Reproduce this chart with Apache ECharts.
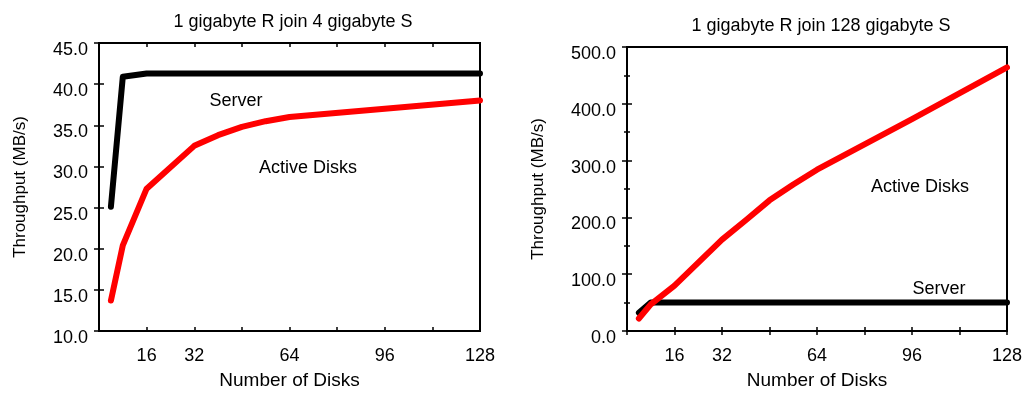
<!DOCTYPE html>
<html><head><meta charset="utf-8">
<script src="https://cdn.jsdelivr.net/npm/echarts@6/dist/echarts.min.js"></script>
<style>html,body{margin:0;padding:0;background:#fff}#c{width:1026px;height:395px}</style>
</head><body><div id="c"></div>
<script>
// Left chart: 1 GB R join 4 GB S
const leftServerDisks = [4, 8, 16, 32, 64, 128];
const leftServerMBs   = [25.1, 40.9, 41.3, 41.3, 41.3, 41.3];
const leftActiveDisks = [4, 8, 16, 32, 40, 48, 56, 64, 128];
const leftActiveMBs   = [13.7, 20.4, 27.3, 32.5, 33.8, 34.8, 35.5, 36.0, 38.0];
// Right chart: 1 GB R join 128 GB S
const rightServerDisks = [4, 8, 16, 32, 64, 128];
const rightServerMBs   = [32, 50, 50, 50, 50, 50];
const rightActiveDisks = [4, 8, 16, 32, 40, 48, 56, 64, 96, 128];
const rightActiveMBs   = [22, 47, 80, 161, 195, 230, 258, 284, 373, 464];
// Tick labels
const xTickLabels = [16, 32, 64, 96, 128];
const titles = ['1 gigabyte R join 4 gigabyte S', '1 gigabyte R join 128 gigabyte S'];

const pairs = (xs, ys) => xs.map((x, i) => [x, ys[i]]);
const FONT = 'Liberation Sans, Arial, Helvetica, sans-serif';

function xAxes(gi) {
  return [{
    type: 'value', gridIndex: gi, min: 0, max: 128, interval: 16,
    axisLine: { show: false }, splitLine: { show: false },
    axisTick: { inside: true, length: 4, lineStyle: { color: '#000', width: 1.5 } },
    axisLabel: { margin: 16, color: '#000', fontSize: 18, fontFamily: FONT,
      formatter: v => xTickLabels.includes(v) ? String(v) : '' },
    name: 'Number of Disks', nameLocation: 'middle', nameGap: 40,
    nameTextStyle: { color: '#000', fontSize: 19, fontFamily: FONT }
  }, {
    type: 'value', gridIndex: gi, position: 'top', min: 0, max: 128, interval: 16,
    axisLine: { show: false }, splitLine: { show: false },
    axisTick: { inside: true, length: 4, lineStyle: { color: '#000', width: 1.5 } },
    axisLabel: { show: false }
  }];
}
function yAxes(gi, min, max, interval, minor, gap) {
  const tick = { inside: true, length: 5, lineStyle: { color: '#000', width: 1.5 } };
  const mt = { show: minor, splitNumber: 2, length: 3, lineStyle: { color: '#000', width: 1.5 } };
  return [{
    type: 'value', gridIndex: gi, min, max, interval,
    axisLine: { show: false }, splitLine: { show: false },
    axisTick: tick, minorTick: mt,
    axisLabel: { margin: 11, color: '#000', fontSize: 18, fontFamily: FONT,
      verticalAlign: 'top', lineHeight: 14, formatter: v => v.toFixed(1) },
    name: 'Throughput (MB/s)', nameLocation: 'middle', nameGap: gap,
    nameTextStyle: { color: '#000', fontSize: 17, fontFamily: FONT }
  }, {
    type: 'value', gridIndex: gi, position: 'right', min, max, interval,
    axisLine: { show: false }, splitLine: { show: false },
    axisTick: tick, minorTick: mt, axisLabel: { show: false }
  }];
}
function line(xi, yi, data, color, z) {
  return { type: 'line', xAxisIndex: xi, yAxisIndex: yi, data, showSymbol: false, symbol: 'none',
    lineStyle: { color, width: 6, cap: 'round', join: 'round' }, z, animation: false };
}

const chart = echarts.init(document.getElementById('c'), null, { renderer: 'canvas' });
const lbl = (x, y, t) => ({ type: 'text', x, y, style: { text: t, fill: '#000', font: '18px ' + FONT, textAlign: 'center', textVerticalAlign: 'middle' } });
chart.setOption({
  animation: false,
  backgroundColor: '#fff',
  title: [
    { text: titles[0], left: 288, top: 8, textAlign: 'center',
      textStyle: { fontSize: 18, fontWeight: 'normal', color: '#000', fontFamily: FONT } },
    { text: titles[1], left: 816, top: 12, textAlign: 'center',
      textStyle: { fontSize: 18, fontWeight: 'normal', color: '#000', fontFamily: FONT } }
  ],
  grid: [
    { left: 99, top: 43, width: 381, height: 290, show: true, borderColor: '#000', borderWidth: 2, backgroundColor: 'transparent' },
    { left: 627, top: 47, width: 380, height: 290, show: true, borderColor: '#000', borderWidth: 2, backgroundColor: 'transparent' }
  ],
  xAxis: [...xAxes(0), ...xAxes(1)],
  yAxis: [...yAxes(0, 10, 45, 5, false, 70), ...yAxes(1, 0, 500, 100, true, 80)],
  series: [
    line(0, 0, pairs(leftServerDisks, leftServerMBs), '#000', 3),
    line(0, 0, pairs(leftActiveDisks, leftActiveMBs), '#ff0000', 4),
    line(2, 2, pairs(rightServerDisks, rightServerMBs), '#000', 3),
    line(2, 2, pairs(rightActiveDisks, rightActiveMBs), '#ff0000', 4)
  ],
  graphic: [
    lbl(236, 101, 'Server'),
    lbl(308, 168, 'Active Disks'),
    lbl(920, 187, 'Active Disks'),
    lbl(939, 289, 'Server')
  ]
});
</script></body></html>
